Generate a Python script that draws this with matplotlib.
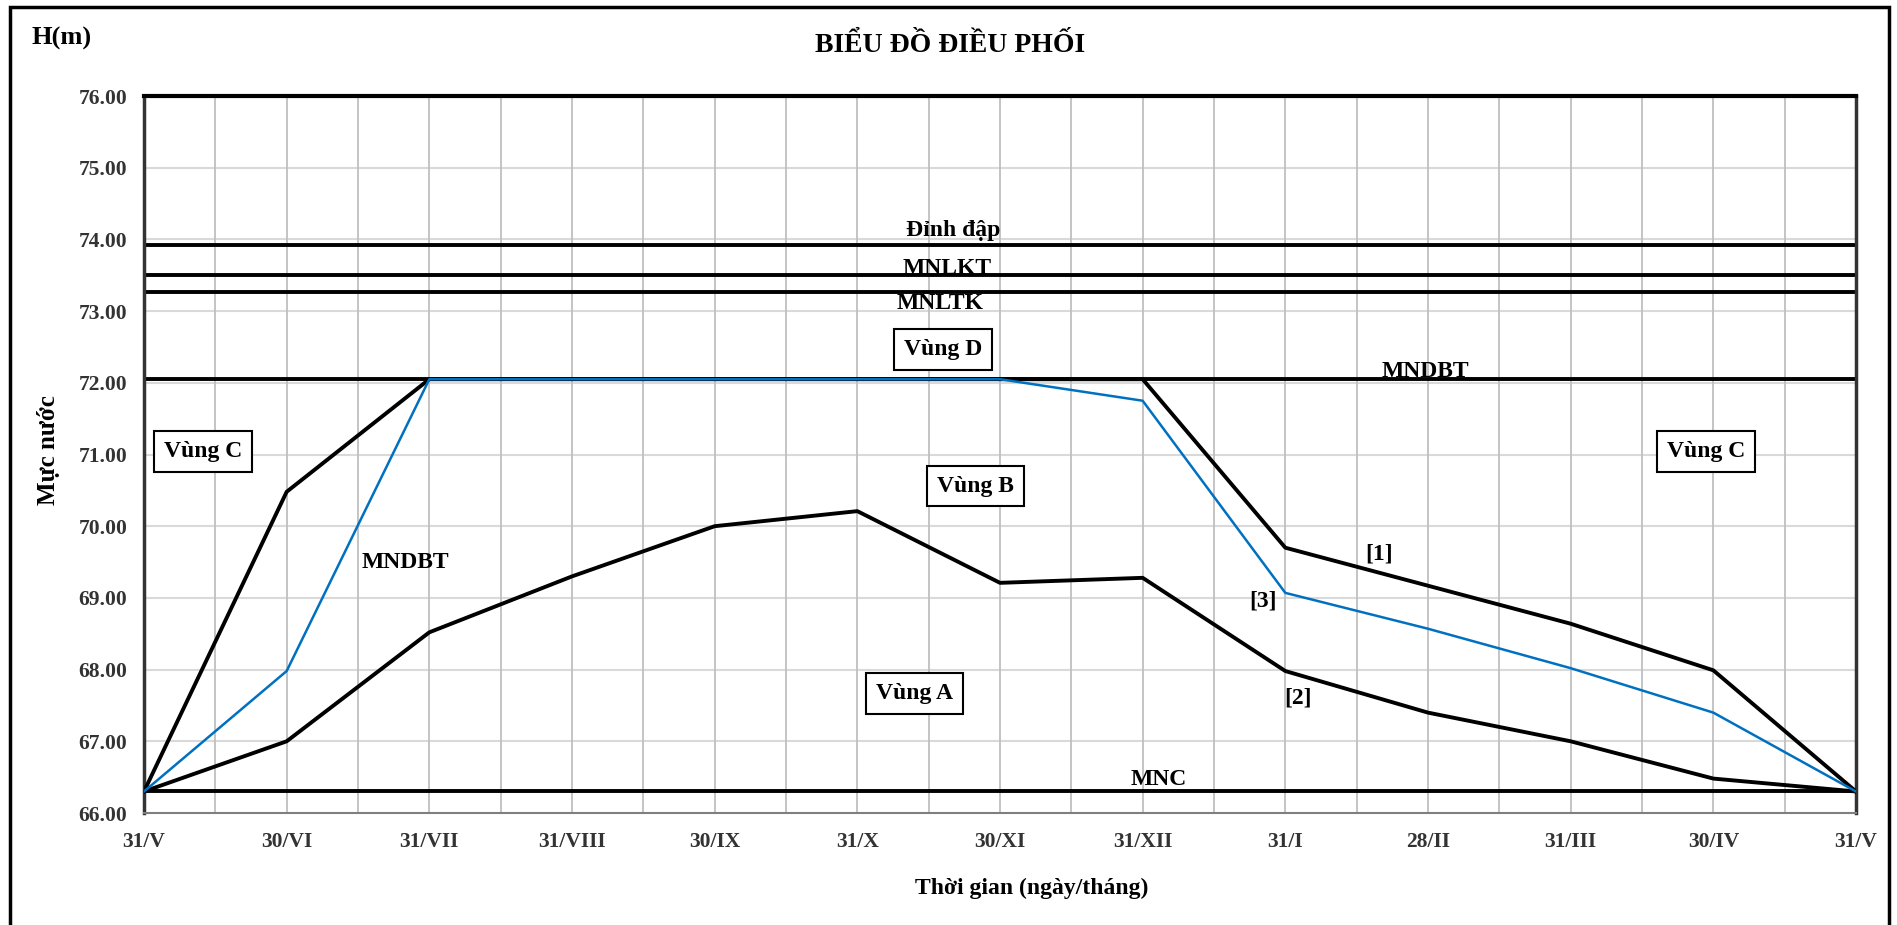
import numpy as np
import matplotlib
matplotlib.use('Agg')
import matplotlib.pyplot as plt
from matplotlib.patches import Rectangle

plt.rcParams['font.family'] = ['Liberation Serif', 'DejaVu Serif']
plt.rcParams['font.weight'] = 'bold'

# Dữ liệu biểu đồ điều phối
thang = ['31/V', '30/VI', '31/VII', '31/VIII', '30/IX', '31/X', '30/XI',
         '31/XII', '31/I', '28/II', '31/III', '30/IV', '31/V']
duong_1 = [66.30, 70.48, 72.05, 72.05, 72.05, 72.05, 72.05, 72.05,
           69.70, 69.17, 68.64, 67.99, 66.30]
duong_3 = [66.30, 67.98, 72.05, 72.05, 72.05, 72.05, 72.05, 71.75,
           69.07, 68.57, 68.02, 67.40, 66.30]
duong_2 = [66.30, 67.00, 68.52, 69.30, 70.00, 70.21, 69.21, 69.28,
           67.98, 67.40, 67.00, 66.48, 66.30]

dinh_dap = 73.92
mnlkt = 73.50
mnltk = 73.27
mndbt = 72.05
mnc = 66.30

x = np.arange(len(thang))

fig = plt.figure(figsize=(18.97, 9.25), dpi=100)
ax = fig.add_axes([144/1897, 1-813/925, 1712/1897, 717/925])

# luoi
ax.set_xlim(0, 12)
ax.set_ylim(66, 76)
ax.set_xticks(x)
ax.set_xticks(np.arange(0.5, 12, 1), minor=True)
ax.set_yticks(np.arange(66, 76.1, 1))
ax.set_yticklabels(['%.2f' % v for v in np.arange(66, 76.1, 1)])
ax.set_xticklabels(thang)
ax.tick_params(axis='both', which='both', length=0, labelsize=15.5, colors='#333333', pad=14)
ax.tick_params(axis='y', pad=12)
for v in np.arange(67, 76, 1):
    ax.axhline(v, color='#d9d9d9', lw=1.5, zorder=0)
for v in np.arange(0.5, 12, 0.5):
    ax.axvline(v, color='#bfbfbf', lw=1.3, zorder=0)

ax.spines['top'].set_linewidth(3)
ax.spines['top'].set_color('black')
ax.spines['left'].set_linewidth(2.5)
ax.spines['left'].set_color('#333333')
ax.spines['right'].set_linewidth(2.5)
ax.spines['right'].set_color('#333333')
ax.spines['bottom'].set_linewidth(1.5)
ax.spines['bottom'].set_color('#7f7f7f')

# cac duong muc nuoc dac trung
for h in [dinh_dap, mnlkt, mnltk, mndbt, mnc]:
    ax.axhline(h, color='black', lw=2.8, zorder=2)

ax.plot(x, duong_2, color='black', lw=2.8, zorder=3)
ax.plot(x, duong_1, color='black', lw=2.8, zorder=3)
ax.plot(x, duong_3, color='#0070C0', lw=1.8, zorder=4)

# chu thich
ax.text(5.67, 74.12, 'Đỉnh đập', fontsize=17, ha='center', va='center')
ax.text(5.63, 73.59, 'MNLKT', fontsize=17, ha='center', va='center')
ax.text(5.58, 73.10, 'MNLTK', fontsize=17, ha='center', va='center')
ax.text(8.98, 72.16, 'MNDBT', fontsize=17, ha='center', va='center')
ax.text(1.83, 69.50, 'MNDBT', fontsize=17, ha='center', va='center')
ax.text(7.11, 66.47, 'MNC', fontsize=17, ha='center', va='center')
ax.text(8.66, 69.61, '[1]', fontsize=17, ha='center', va='center')
ax.text(7.84, 68.95, '[3]', fontsize=17, ha='center', va='center')
ax.text(8.09, 67.61, '[2]', fontsize=17, ha='center', va='center')

hop = dict(boxstyle='square,pad=0.42', fc='white', ec='black', lw=1.5)
ax.text(5.60, 72.47, 'Vùng D', fontsize=17, ha='center', va='center', bbox=hop, zorder=5)
ax.text(5.83, 70.56, 'Vùng B', fontsize=17, ha='center', va='center', bbox=hop, zorder=5)
ax.text(0.413, 71.04, 'Vùng C', fontsize=17, ha='center', va='center', bbox=hop, zorder=5)
ax.text(10.95, 71.04, 'Vùng C', fontsize=17, ha='center', va='center', bbox=hop, zorder=5)
ax.text(5.40, 67.67, 'Vùng A', fontsize=17, ha='center', va='center', bbox=hop, zorder=5)

fig.text(950/1897, 1-45/925, 'BIỂU ĐỒ ĐIỀU PHỐI', fontsize=20, ha='center', va='center')
fig.text(62/1897, 1-38/925, 'H(m)', fontsize=19, ha='center', va='center')
fig.text(48/1897, 1-450/925, 'Mực nước', fontsize=18, ha='center', va='center', rotation=90)
fig.text(1032/1897, 1-888/925, 'Thời gian (ngày/tháng)', fontsize=17, ha='center', va='center')

# khung ngoai
fig.patches.append(Rectangle((10/1897, -0.05), 1879/1897, 1.05 - 7/925,
                             transform=fig.transFigure, fill=False, ec='black', lw=2.5))

fig.savefig('out.png', dpi=100)
plt.close()
